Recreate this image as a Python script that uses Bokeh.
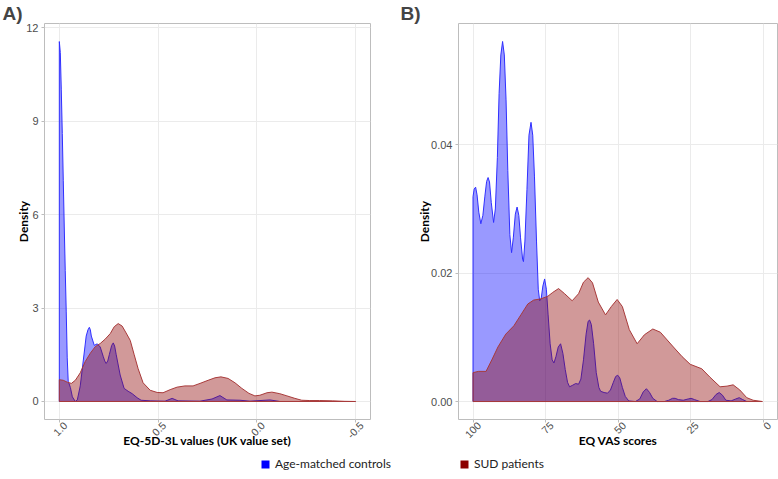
import math
from bokeh.plotting import figure
from bokeh.models import Range1d, FixedTicker, Legend, LegendItem, LinearAxis
from bokeh.layouts import column, row
from bokeh.embed import file_html
from bokeh.resources import INLINE

# ---------- Panel A: EQ-5D-3L values (UK value set) ----------
eq5d_ctrl_x = [1.000, 0.995, 0.990, 0.985, 0.980, 0.975, 0.970, 0.965, 0.960, 0.955,
               0.944, 0.934, 0.919, 0.909, 0.894, 0.879, 0.864, 0.855, 0.848, 0.843,
               0.838, 0.823, 0.808, 0.793, 0.778, 0.770, 0.763, 0.755, 0.747, 0.735,
               0.727, 0.720, 0.712, 0.692, 0.672, 0.652, 0.631, 0.606, 0.586, 0.540,
               0.465, 0.429, 0.399, 0.288, 0.227, 0.187, 0.152, 0.086, 0.035, -0.066,
               -0.116]
eq5d_ctrl_y = [11.55, 11.2, 10.0, 8.6, 7.1, 5.6, 4.2, 2.9, 1.4, 0.65,
               0.45, 0.15, 0.0, 0.05, 0.5, 1.3, 2.1, 2.3, 2.38, 2.3,
               2.1, 1.8, 1.85, 1.75, 1.45, 1.3, 1.22, 1.3, 1.5, 1.8,
               1.88, 1.78, 1.5, 0.85, 0.42, 0.33, 0.25, 0.12, 0.04, 0.02,
               0.01, 0.1, 0.02, 0.01, 0.08, 0.19, 0.05, 0.04, 0.01, 0.05,
               0.0]

eq5d_sud_x = [1.000, 0.980, 0.960, 0.939, 0.919, 0.894, 0.869, 0.843, 0.818, 0.793,
              0.768, 0.742, 0.722, 0.702, 0.682, 0.662, 0.641, 0.621, 0.601, 0.576,
              0.540, 0.505, 0.475, 0.439, 0.404, 0.364, 0.323, 0.288, 0.247, 0.212,
              0.182, 0.146, 0.111, 0.076, 0.040, 0.010, -0.015, -0.051, -0.076, -0.116,
              -0.152, -0.192, -0.227, -0.268, -0.318, -0.384, -0.444, -0.500]
eq5d_sud_y = [0.70, 0.68, 0.62, 0.58, 0.68, 0.92, 1.28, 1.55, 1.76, 1.86,
              2.0, 2.18, 2.4, 2.5, 2.42, 2.2, 1.96, 1.5, 1.05, 0.6,
              0.36, 0.29, 0.28, 0.38, 0.46, 0.5, 0.5, 0.58, 0.68, 0.76,
              0.79, 0.74, 0.6, 0.42, 0.26, 0.18, 0.2, 0.28, 0.3, 0.25,
              0.18, 0.1, 0.04, 0.03, 0.03, 0.02, 0.005, 0.0]

eq5d_ticks = [1.0, 0.5, 0.0, -0.5]
eq5d_tick_labels = ["1.0", "0.5", "0.0", "-0.5"]
eq5d_density_ticks = [0, 3, 6, 9, 12]

# ---------- Panel B: EQ VAS scores ----------
vas_ctrl_x = [100, 99.6, 99.1, 98.6, 98.0, 97.3, 96.6, 95.9, 95.3, 94.8,
              94.3, 93.7, 92.9, 92.3, 91.6, 91.0, 90.4, 89.8, 89.2, 88.6,
              88.0, 87.3, 86.7, 86.1, 85.4, 84.8, 84.2, 83.6, 82.9, 82.6,
              82.1, 81.4, 80.7, 80.0, 79.4, 78.8, 78.1, 77.5, 77.0, 76.5,
              75.9, 75.3, 74.7, 74.1, 73.4, 72.7, 72.1, 71.4, 70.6, 69.8,
              69.0, 68.2, 67.4, 66.7, 65.8, 64.6, 63.6, 62.8, 61.9, 61.0,
              60.3, 59.8, 59.2, 58.4, 57.5, 56.6, 56.0, 54.8, 53.6, 52.6,
              51.6, 50.8, 50.1, 49.4, 48.5, 47.5, 46.3, 44.0, 42.5, 41.3,
              40.2, 39.1, 38.0, 36.5, 34.0, 32.5, 31.2, 30.3, 29.2, 27.5,
              25.8, 24.8, 23.6, 21.7, 19.0, 17.6, 16.2, 15.1, 14.0, 12.8,
              11.0, 9.4, 8.2, 7.0, 5.6]
vas_ctrl_y = [0.0319, 0.0331, 0.0334, 0.0322, 0.0295, 0.0277, 0.0290, 0.0320, 0.0343, 0.0349,
              0.0342, 0.0310, 0.0279, 0.0300, 0.0380, 0.0480, 0.0540, 0.0561, 0.0540, 0.0470,
              0.0360, 0.0260, 0.0232, 0.0255, 0.0292, 0.0303, 0.0290, 0.0255, 0.0222, 0.0218,
              0.0250, 0.0330, 0.0415, 0.0435, 0.0415, 0.0350, 0.0250, 0.0175, 0.0157, 0.0160,
              0.0180, 0.0191, 0.0175, 0.0135, 0.0090, 0.0065, 0.0060, 0.0070, 0.0085, 0.0090,
              0.0075, 0.0050, 0.0030, 0.0023, 0.0025, 0.0028, 0.0027, 0.0035, 0.0065, 0.0105,
              0.0125, 0.0127, 0.0120, 0.0090, 0.0045, 0.0022, 0.0016, 0.0014, 0.0013, 0.0018,
              0.0030, 0.0039, 0.0041, 0.0037, 0.0022, 0.0008, 0.0001, 0.0, 0.0004, 0.0015,
              0.0020, 0.0014, 0.0005, 0.0, 0.0, 0.0002, 0.0005, 0.0005, 0.0003, 0.0002,
              0.0004, 0.0005, 0.0003, 0.0, 0.0, 0.0003, 0.0011, 0.0014, 0.0010, 0.0002,
              0.0001, 0.0004, 0.0006, 0.0003, 0.0]

vas_sud_x = [100, 98.1, 95.5, 93.5, 91.4, 88.7, 85.9, 83.5, 81.1, 79.1,
             76.6, 74.2, 72.5, 70.5, 68.4, 65.8, 63.6, 61.9, 60.3, 58.8,
             56.8, 54.3, 52.3, 50.3, 48.5, 46.1, 43.4, 40.9, 38.0, 35.4,
             30.9, 27.9, 25.1, 21.1, 18.3, 14.8, 12.4, 10.3, 8.0, 5.6,
             3.4, 0.2]
vas_sud_y = [0.0045, 0.0047, 0.0047, 0.0065, 0.0085, 0.0105, 0.0118, 0.0135, 0.0152, 0.0158,
             0.0160, 0.0164, 0.0170, 0.0176, 0.0168, 0.0157, 0.0168, 0.0186, 0.0193, 0.0185,
             0.0155, 0.0135, 0.0148, 0.0159, 0.0148, 0.0112, 0.0090, 0.0104, 0.0113, 0.0108,
             0.0085, 0.0070, 0.0058, 0.0051, 0.0038, 0.0023, 0.0024, 0.0026, 0.0018, 0.0006,
             0.0002, 0.0]

vas_ticks = [100, 75, 50, 25, 0]
vas_tick_labels = ["100", "75", "50", "25", "0"]
vas_density_ticks = [0, 0.02, 0.04]
vas_density_labels = ["0.00", "0.02", "0.04"]

group_names = ["Age-matched controls", "SUD patients"]
fill_colors = ["blue", "darkred"]
line_colors = ["#2f2fff", "#a83a3a"]

TICK_FONT = "Liberation Sans"
TITLE_FONT = "Lato"
GRID = "#ebebeb"
BORDER = "#bdbdbd"
LABEL_SHIFT_PX = 6  # rotated tick labels sit centred under their ticks


def style_axis_text(ax):
    ax.axis_line_color = None
    ax.minor_tick_line_color = None
    ax.major_label_text_font = TICK_FONT
    ax.major_label_text_font_size = "10.5px"
    ax.major_label_text_color = "#4d4d4d"
    ax.axis_label_text_font = TITLE_FONT
    ax.axis_label_text_font_style = "bold"
    ax.axis_label_text_font_size = "12px"
    ax.axis_label_text_color = "black"


def build_panel(width, min_left, min_right, x_start, x_end, y_start, y_end, letter,
                title_offset, xlab, ylab_standoff, xticks, xlabels, yticks, ylabels):
    p = figure(width=width, height=H, output_backend="svg", toolbar_location=None,
               x_range=Range1d(x_start, x_end), y_range=Range1d(y_start, y_end),
               min_border_left=min_left, min_border_right=min_right,
               min_border_top=4, min_border_bottom=36)
    p.title.text = letter
    p.title.text_font = "Liberation Sans"
    p.title.text_font_style = "bold"
    p.title.text_font_size = "19px"
    p.title.align = "left"
    p.title.offset = title_offset
    p.title.standoff = 0
    p.outline_line_color = BORDER
    p.outline_line_width = 1
    p.background_fill_color = "white"
    p.border_fill_color = "white"

    # y axis
    ya = p.yaxis[0]
    style_axis_text(ya)
    ya.ticker = FixedTicker(ticks=yticks)
    ya.major_label_overrides = {t: l for t, l in zip(yticks, ylabels)}
    ya.major_tick_line_color = BORDER
    ya.major_tick_out = 3
    ya.major_tick_in = 0
    ya.major_label_text_font_size = "11px"
    ya.major_label_standoff = 3
    ya.axis_label = "Density"
    ya.axis_label_standoff = ylab_standoff

    # x axis carrying only the tick marks (and the grid); its labels are not drawn
    xa = p.xaxis[0]
    style_axis_text(xa)
    xtk = FixedTicker(ticks=xticks)
    xa.ticker = xtk
    xa.major_tick_line_color = BORDER
    xa.major_tick_out = 3
    xa.major_tick_in = 0
    xa.major_label_overrides = {t: "" for t in xticks}
    xa.major_label_text_color = None
    xa.major_label_text_font_size = "1px"
    xa.major_label_standoff = 0
    p.xgrid.ticker = xtk
    p.ygrid.ticker = ya.ticker
    p.xgrid.grid_line_color = GRID
    p.ygrid.grid_line_color = GRID

    # x axis carrying the rotated labels and the axis title
    frame_w = width - min_left - min_right
    shift = LABEL_SHIFT_PX * (x_start - x_end) / frame_w
    p.extra_x_ranges = {"lab": Range1d(x_start + shift, x_end + shift)}
    la = LinearAxis(x_range_name="lab", ticker=FixedTicker(ticks=xticks))
    style_axis_text(la)
    la.major_label_overrides = {t: l for t, l in zip(xticks, xlabels)}
    la.major_tick_line_color = None
    la.major_tick_out = 0
    la.major_tick_in = 0
    la.major_label_standoff = 1
    la.major_label_orientation = math.pi / 4
    la.axis_label = xlab
    la.axis_label_standoff = -12
    p.add_layout(la, "below")
    return p


def add_area(p, xs, ys, fill, line):
    px = [xs[0]] + list(xs) + [xs[-1]]
    py = [0] + list(ys) + [0]
    return p.patch(px, py, fill_color=fill, fill_alpha=0.4, line_color=line, line_width=1)


H = 455
p1 = build_panel(400, 44, 30, 1.075, -0.575, -0.578, 12.13, "A)", -42,
                 "EQ-5D-3L values (UK value set)", -8,
                 eq5d_ticks, eq5d_tick_labels, eq5d_density_ticks,
                 [str(t) for t in eq5d_density_ticks])
add_area(p1, eq5d_ctrl_x, eq5d_ctrl_y, fill_colors[0], line_colors[0])
add_area(p1, eq5d_sud_x, eq5d_sud_y, fill_colors[1], line_colors[1])

p2 = build_panel(378, 58, 1, 105, -5, -0.0028, 0.0589, "B)", -58,
                 "EQ VAS scores", -4,
                 vas_ticks, vas_tick_labels, vas_density_ticks, vas_density_labels)
add_area(p2, vas_ctrl_x, vas_ctrl_y, fill_colors[0], line_colors[0])
add_area(p2, vas_sud_x, vas_sud_y, fill_colors[1], line_colors[1])

# legend strip
p3 = figure(width=778, height=479 - H, output_backend="svg", toolbar_location=None,
            x_range=Range1d(0, 1), y_range=Range1d(0, 1),
            min_border=0)
p3.axis.visible = False
p3.grid.visible = False
p3.outline_line_color = None
items = []
for name, col in zip(group_names, fill_colors):
    # swatch drawn off-screen so that only the legend glyph is visible
    r = p3.patch([5, 6, 6, 5], [5, 5, 6, 6], fill_color=col, line_color=None)
    items.append(LegendItem(label=name, renderers=[r]))
leg = Legend(items=items, orientation="horizontal", location=(260, 8),
             glyph_width=10, glyph_height=10, label_standoff=5, spacing=68,
             padding=0, margin=0, border_line_color=None, background_fill_alpha=0,
             label_text_font=TITLE_FONT, label_text_font_size="12px", label_text_color="#222222")
p3.add_layout(leg, "center")

layout = column(row(p1, p2), p3,
                styles={"position": "absolute", "left": "0px", "top": "0px"})
open("out.html", "w").write(file_html(layout, INLINE))
